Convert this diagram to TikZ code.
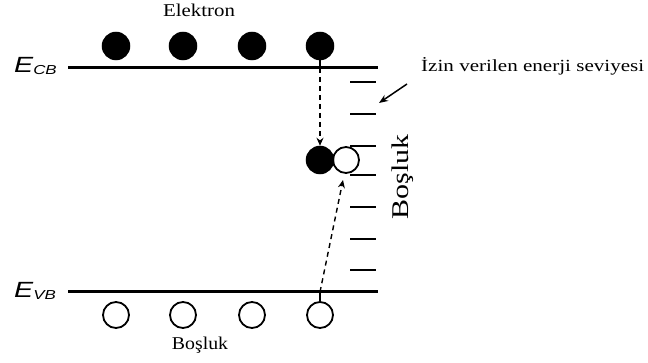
\documentclass[tikz,border=0pt]{standalone}
\usepackage{fontspec}
\usepackage{graphicx}
\setmainfont{Liberation Serif}
\newfontfamily\arialfont{Liberation Sans}
\usetikzlibrary{arrows.meta}
\newcommand{\stx}[3]{\scalebox{#1}[1]{\fontsize{#2}{#2}\selectfont #3}}
\begin{document}
\begin{tikzpicture}[x=1pt,y=1pt,
  band/.style={line width=3pt},
  lvl/.style={line width=1.6pt},
  elec/.style={circle,fill=black,draw=black,line width=1.5pt,minimum size=27pt,inner sep=0pt},
  hole/.style={circle,fill=white,draw=black,line width=1.8pt,minimum size=26pt,inner sep=0pt},
  dasharrow/.style={line width=1.4pt,dash pattern=on 5pt off 4pt,-{Stealth[length=8pt,width=7pt,open]}},
  lbl/.style={inner sep=0pt}]
\useasboundingbox (0,0) rectangle (648,-363);
% labels
\node[lbl] (elk) at (199,-10) {\stx{1.16}{18}{Elektron}};
\node[lbl] (bos) at (200,-345) {\stx{1.1}{18}{Boşluk}};
\node[lbl,anchor=base west] (izin) at (421,-72) {\stx{1.24}{17}{İzin verilen enerji seviyesi}};
\node[lbl,rotate=90,anchor=base] (bosv) at (408,-177) {\stx{1.25}{24}{Boşluk}};
\node[lbl,anchor=base west] (ecb) at (14,-73) {\scalebox{1.3}[1]{\arialfont\itshape\fontsize{22}{22}\selectfont E\raisebox{-2pt}{\fontsize{13}{13}\selectfont CB}}};
\node[lbl,anchor=base west] (evb) at (14,-298) {\scalebox{1.3}[1]{\arialfont\itshape\fontsize{22}{22}\selectfont E\raisebox{-2pt}{\fontsize{13}{13}\selectfont VB}}};
% bands
\coordinate (cbL) at (68,-68);
\coordinate (cbR) at (378,-68);
\coordinate (vbL) at (68,-292);
\coordinate (vbR) at (378,-292);
\draw[band] (cbL) -- (cbR);
\draw[band] (vbL) -- (vbR);
% levels
\foreach \y [count=\i] in {82,114,146,175,207,239,270}{
  \coordinate (lA\i) at (350,-\y);
  \coordinate (lB\i) at (376,-\y);
  \draw[lvl] (lA\i) -- (lB\i);
}
% electrons
\node[elec] (e1) at (116,-46) {};
\node[elec] (e2) at (183,-46) {};
\node[elec] (e3) at (252,-46) {};
\node[elec] (e4) at (320,-46) {};
% holes
\node[hole] (h1) at (116,-315) {};
\node[hole] (h2) at (183,-315) {};
\node[hole] (h3) at (252,-315) {};
\node[hole] (h4) at (320,-315) {};
% stems
\coordinate (s1) at (320,-68);
\coordinate (s2) at (320,-292);
\draw[line width=1.5pt] (e4.south) -- (s1);
\draw[line width=1.5pt] (h4.north) -- (s2);
% trapped pair
\node[hole] (hm) at (346,-160) {};
\node[elec] (em) at (320,-160) {};
% transitions
\draw[dasharrow] (s1) -- (em.north);
\draw[dasharrow] (s2) -- (343,-180);
% pointer arrow
\coordinate (pa) at (407,-84);
\coordinate (pb) at (379,-103);
\draw[line width=1.5pt,-{Stealth[length=9pt,width=7pt]}] (pa) -- (pb);
\end{tikzpicture}
\end{document}
